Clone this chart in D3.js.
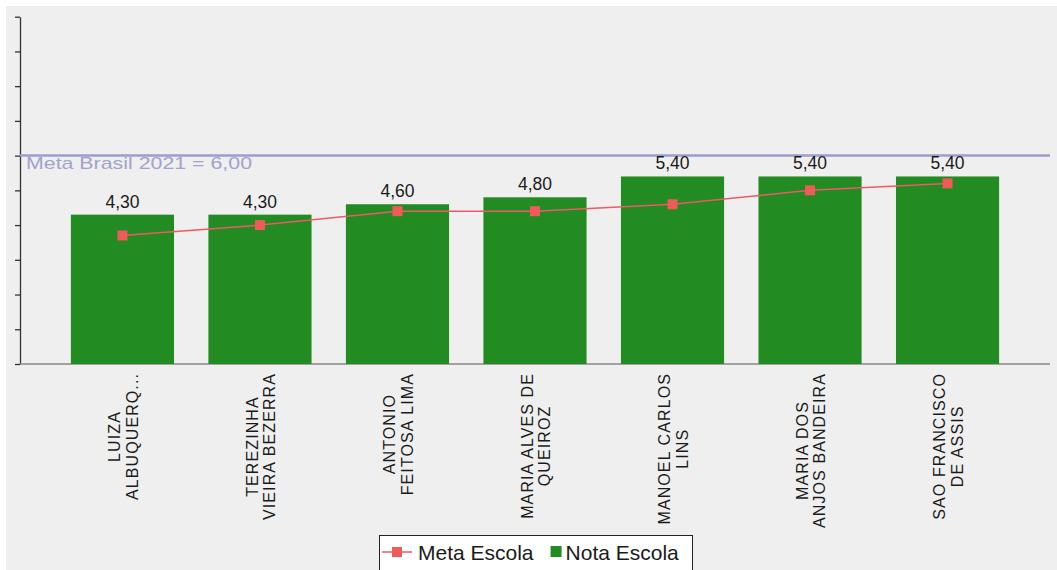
<!DOCTYPE html>
<html><head><meta charset="utf-8">
<script src="https://cdn.jsdelivr.net/npm/d3@7"></script>
<style>
body{margin:0;background:#fff;}
svg{display:block;font-family:Arial,"Liberation Sans",sans-serif;}
</style>
</head><body>
<svg id="c" width="1057" height="570"></svg>
<script>
// ---- data ----
const categories = ["LUIZA|ALBUQUERQ...", "TEREZINHA|VIEIRA BEZERRA", "ANTONIO|FEITOSA LIMA",
  "MARIA ALVES DE|QUEIROZ", "MANOEL CARLOS|LINS", "MARIA DOS|ANJOS BANDEIRA", "SAO FRANCISCO|DE ASSIS"];
const notaEscola = [4.3, 4.3, 4.6, 4.8, 5.4, 5.4, 5.4];
const metaEscola = [3.7, 4.0, 4.4, 4.4, 4.6, 5.0, 5.2];
const metaBrasil = 6.0;
const metaBrasilLabel = "Meta Brasil 2021 = 6,00";
const yTicks = [0,1,2,3,4,5,6,7,8,9,10];
const seriesNames = ["Meta Escola", "Nota Escola"];

// ---- layout ----
const svg = d3.select("#c");
const pLeft = 20, pRight = 1050, pTop = 16.7, pBottom = 364;
const colGreen = "#228b22", colRed = "#f05a5a", colLine = "#ec5a66", colMeta = "#9c9cd0";
const fmt = v => d3.format(".2f")(v).replace(".", ",");

svg.append("rect").attr("x", 6).attr("y", 6).attr("width", 1051).attr("height", 564).attr("fill", "#efefef");

const x = d3.scaleBand().domain(d3.range(categories.length)).range([pLeft, pRight])
  .paddingInner(0.25).paddingOuter(0.37);
const y = d3.scaleLinear().domain([0, 10]).range([pBottom, pTop]);

// y axis
const ya = svg.append("g").attr("transform", `translate(${pLeft},0)`)
  .call(d3.axisLeft(y).tickValues(yTicks).tickFormat("").tickSize(5).tickSizeOuter(0));
ya.selectAll("path,line").attr("stroke", "#333").attr("stroke-width", 1.3);

// x axis line
svg.append("line").attr("x1", pLeft).attr("x2", pRight).attr("y1", pBottom).attr("y2", pBottom)
  .attr("stroke", "#888").attr("stroke-width", 1.3);

// Meta Brasil line
svg.append("line").attr("x1", pLeft).attr("x2", pRight).attr("y1", y(metaBrasil)).attr("y2", y(metaBrasil))
  .attr("stroke", colMeta).attr("stroke-width", 2.5);
svg.append("text").attr("x", 26).attr("y", y(metaBrasil) + 13).attr("fill", "#a2a2cc")
  .attr("font-size", 17).attr("textLength", 226).attr("lengthAdjust", "spacingAndGlyphs")
  .text(metaBrasilLabel);

// bars
svg.selectAll("rect.bar").data(notaEscola).join("rect").attr("class", "bar")
  .attr("x", (d, i) => x(i)).attr("width", x.bandwidth())
  .attr("y", d => y(d)).attr("height", d => pBottom - y(d)).attr("fill", colGreen);

// value labels
svg.selectAll("text.val").data(notaEscola).join("text").attr("class", "val")
  .attr("x", (d, i) => x(i) + x.bandwidth() / 2).attr("y", d => y(d) - 7)
  .attr("text-anchor", "middle").attr("font-size", 17.5).attr("fill", "#1a1a1a")
  .text(d => fmt(d));

// meta escola line
const cx = i => x(i) + x.bandwidth() / 2;
svg.append("path").datum(metaEscola)
  .attr("d", d3.line().x((d, i) => cx(i)).y(d => y(d)))
  .attr("fill", "none").attr("stroke", colLine).attr("stroke-width", 1.5);
svg.selectAll("rect.mk").data(metaEscola).join("rect").attr("class", "mk")
  .attr("x", (d, i) => cx(i) - 5).attr("y", d => y(d) - 5).attr("width", 10).attr("height", 10)
  .attr("fill", colRed);

// category labels (rotated, centered multi-line)
const labTop = 373, lh = 17.5, fs = 16;
categories.forEach((c, i) => {
  const lines = c.split("|");
  const g = svg.append("g");
  const ts = lines.map((l, j) => g.append("text").attr("font-size", fs).attr("fill", "#1a1a1a")
    .attr("letter-spacing", 1.1).attr("text-anchor", "middle").text(l));
  const maxW = d3.max(ts, t => t.node().getBBox().width);
  const cyc = labTop + maxW / 2;
  ts.forEach((t, j) => {
    const off = (j - (lines.length - 1) / 2) * lh + 6.5;
    t.attr("transform", `translate(${cx(i) + off},${cyc}) rotate(-90)`);
  });
});

// legend
const lg = svg.append("g");
lg.append("rect").attr("x", 379.5).attr("y", 535.5).attr("width", 313).attr("height", 45)
  .attr("fill", "#fff").attr("stroke", "#222").attr("stroke-width", 1);
const ly = 552;
lg.append("line").attr("x1", 382).attr("x2", 412).attr("y1", ly).attr("y2", ly)
  .attr("stroke", colLine).attr("stroke-width", 1.5);
lg.append("rect").attr("x", 392).attr("y", ly - 5).attr("width", 10).attr("height", 10).attr("fill", colRed);
const t1 = lg.append("text").attr("x", 418).attr("y", 560).attr("font-size", 21).attr("fill", "#1a1a1a").text(seriesNames[0]);
const w1 = t1.node().getComputedTextLength();
const sx = 418 + w1 + 17;
lg.append("rect").attr("x", sx).attr("y", ly - 6).attr("width", 11).attr("height", 11).attr("fill", colGreen);
lg.append("text").attr("x", sx + 15).attr("y", 560).attr("font-size", 21).attr("fill", "#1a1a1a").text(seriesNames[1]);
</script>
</body></html>
